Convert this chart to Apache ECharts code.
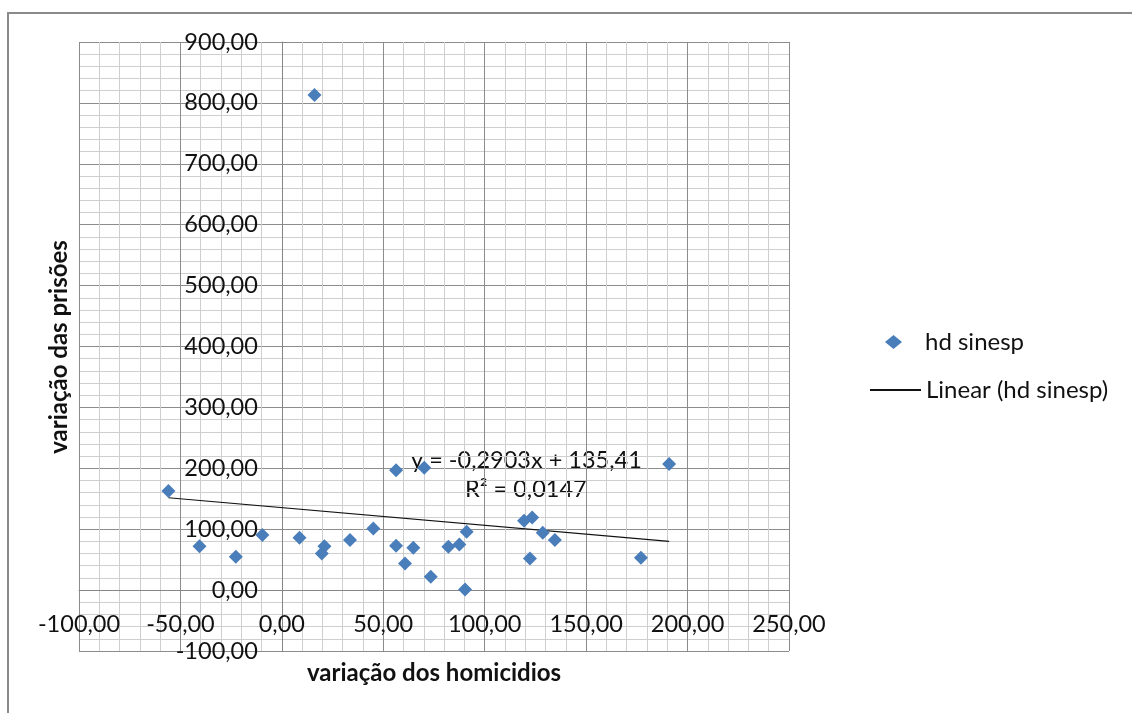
<!DOCTYPE html>
<html>
<head>
<meta charset="utf-8">
<script src="https://cdn.jsdelivr.net/npm/echarts@6/dist/echarts.min.js"></script>
<style>
  html, body { margin: 0; padding: 0; background: #fff; }
  #frame { position: absolute; left: 7px; top: 12px; width: 1200px; height: 800px;
           border-left: 2px solid #8a8a8a; border-top: 2px solid #8a8a8a; }
  #chart { position: absolute; left: 0; top: 0; width: 1132px; height: 713px; }
</style>
</head>
<body>
<div id="frame"></div>
<div id="chart"></div>
<script>
// Homicide variation (x) vs. prison variation (y), per unit
const homicideVar = [-55.9, -40.6, -22.7, -9.6, 8.7, 19.7, 21.0, 33.6, 45.1, 16.1,
                     56.3, 70.2, 56.3, 64.8, 60.7, 73.4, 82.1, 87.5, 91.1, 90.3,
                     119.4, 123.4, 128.6, 134.6, 122.3, 177.0, 190.9];
const prisonVar = [162.6, 72.2, 54.7, 90.3, 85.9, 60.2, 72.2, 82.1, 101.3, 812.8,
                   197.0, 200.8, 72.7, 69.5, 43.8, 21.9, 71.1, 75.0, 95.7, 1.1,
                   113.8, 119.4, 94.1, 82.1, 52.0, 53.1, 206.9];

// Linear trend line coefficients
const trendSlope = -0.2903;
const trendIntercept = 135.41;
const trendR2 = 0.0147;

const seriesName = 'hd sinesp';
const trendName = 'Linear (hd sinesp)';

const xTicks = { min: -100, max: 250, step: 50 };
const yTicks = { min: -100, max: 900, step: 100 };

const fmt = (v, d) => v.toFixed(d).replace('.', ',');

const points = homicideVar.map((x, i) => [x, prisonVar[i]]);
const xLo = Math.min(...homicideVar), xHi = Math.max(...homicideVar);
const trendPts = [xLo, xHi].map(x => [x, trendSlope * x + trendIntercept]);

// plot area
const W = 1132, H = 713;
const G = { left: 79, right: 343, top: 42, bottom: 62 };
const gw = W - G.left - G.right, gh = H - G.top - G.bottom;
// axes cross at zero: shift each axis line inward from the grid edge
const yAxisShift = gw * (0 - xTicks.min) / (xTicks.max - xTicks.min);
const xAxisShift = gh * (0 - yTicks.min) / (yTicks.max - yTicks.min);

const FONT = 'Lato, "Open Sans", sans-serif';
const TXT = '#111';
const legendText = { fontSize: 24, color: TXT, fontFamily: FONT };
const chart = echarts.init(document.getElementById('chart'));

chart.setOption({
  animation: false,
  textStyle: { fontFamily: FONT },
  grid: G,
  xAxis: {
    type: 'value', min: xTicks.min, max: xTicks.max, interval: xTicks.step,
    position: 'bottom', offset: -xAxisShift,
    axisLine: { onZero: false, lineStyle: { color: '#868686', width: 1 } },
    axisTick: { show: false },
    axisLabel: { margin: 22, fontSize: 23.5, color: TXT, fontFamily: FONT,
                 formatter: v => fmt(v, 2) },
    splitLine: { show: true, lineStyle: { color: '#8c8c8c', width: 1 } },
    minorTick: { show: false, splitNumber: 5 },
    minorSplitLine: { show: true, lineStyle: { color: '#cfcfcf', width: 1 } }
  },
  yAxis: {
    type: 'value', min: yTicks.min, max: yTicks.max, interval: yTicks.step,
    position: 'left', offset: -yAxisShift,
    axisLine: { onZero: false, lineStyle: { color: '#868686', width: 1 } },
    axisTick: { show: false },
    axisLabel: { margin: 24, fontSize: 23.5, color: TXT, fontFamily: FONT,
                 formatter: v => fmt(v, 2) },
    splitLine: { show: true, lineStyle: { color: '#8c8c8c', width: 1 } },
    minorTick: { show: false, splitNumber: 5 },
    minorSplitLine: { show: true, lineStyle: { color: '#cfcfcf', width: 1 } }
  },
  legend: [
    {
      orient: 'vertical', left: 880, top: 325,
      itemWidth: 17, itemHeight: 14,
      textStyle: Object.assign({ padding: [0, 0, 0, 18] }, legendText),
      data: [{ name: seriesName, icon: 'diamond' }]
    },
    {
      orient: 'vertical', left: 864, top: 373,
      itemWidth: 51, itemHeight: 14,
      textStyle: legendText,
      data: [{ name: trendName, itemStyle: { opacity: 0 } }]
    }
  ],
  series: [
    {
      name: seriesName, type: 'scatter', symbol: 'diamond', symbolSize: 14,
      itemStyle: { color: '#4a7ebb', opacity: 1 }, data: points, z: 3
    },
    {
      name: trendName, type: 'line', symbol: 'none', data: trendPts,
      lineStyle: { color: '#111', width: 1.2 }, itemStyle: { color: '#111' }, z: 2
    }
  ],
  graphic: [
    { type: 'text', left: 411, top: 448,
      style: { text: 'y = ' + fmt(trendSlope, 4) + 'x + ' + fmt(trendIntercept, 2),
               font: '23.5px ' + FONT, fill: TXT } },
    { type: 'text', left: 465, top: 477,
      style: { text: 'R² = ' + fmt(trendR2, 4), font: '23.5px ' + FONT, fill: TXT } },
    { type: 'text', x: 434, y: 673,
      style: { text: 'variação dos homicidios', font: 'bold 24px ' + FONT, fill: TXT,
               align: 'center', verticalAlign: 'middle' } },
    { type: 'text', x: 59, y: 347, rotation: Math.PI / 2,
      style: { text: 'variação das prisões', font: 'bold 24px ' + FONT, fill: TXT,
               align: 'center', verticalAlign: 'middle' } }
  ]
});
</script>
</body>
</html>
